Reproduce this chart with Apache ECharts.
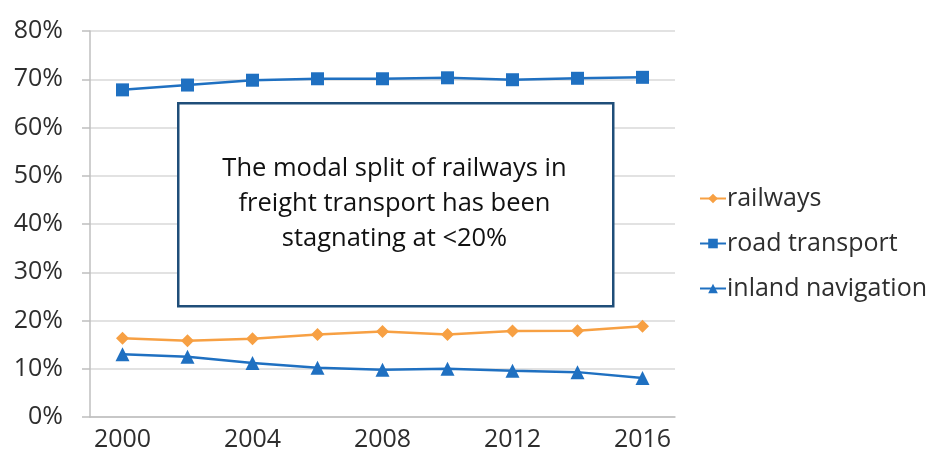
<!DOCTYPE html>
<html>
<head>
<meta charset="utf-8">
<script src="https://cdn.jsdelivr.net/npm/echarts@6/dist/echarts.min.js"></script>
<style>
  html, body { margin: 0; padding: 0; background: #fff; }
  #chart { width: 938px; height: 466px; }
</style>
</head>
<body>
<div id="chart"></div>
<script>
// data (share of freight transport, %)
const years = ["2000", "2002", "2004", "2006", "2008", "2010", "2012", "2014", "2016"];
const railways = [16.3, 15.8, 16.2, 17.1, 17.7, 17.1, 17.8, 17.9, 18.8];
const roadTransport = [67.8, 68.8, 69.8, 70.1, 70.1, 70.3, 69.9, 70.2, 70.4];
const inlandNavigation = [13.0, 12.5, 11.2, 10.2, 9.8, 10.0, 9.6, 9.3, 8.1];
const noteLines = ["The modal split of railways in", "freight transport has been", "stagnating at <20%"];

const font = "'Open Sans', sans-serif";
const textColor = "#2e2e2e";

const myChart = echarts.init(document.getElementById("chart"));
const option = {
  animation: false,
  textStyle: { fontFamily: font },
  grid: { left: 90, right: 263, top: 31, bottom: 49 },
  legend: {
    orient: "vertical",
    left: 694,
    top: 181,
    itemGap: 20,
    itemWidth: 26,
    itemHeight: 12,
    textStyle: { fontSize: 25, color: textColor, fontFamily: font, padding: [0, 0, 0, -4] },
    data: ["railways", "road transport", "inland navigation"],
  },
  xAxis: {
    type: "category",
    data: years,
    boundaryGap: true,
    axisLine: { lineStyle: { color: "#bfbfbf", width: 1.5 } },
    axisTick: { interval: 0, length: 9, lineStyle: { color: "#bfbfbf", width: 1.5 } },
    axisLabel: { interval: 1, fontSize: 25, color: textColor, margin: 10 },
  },
  yAxis: {
    type: "value",
    min: 0,
    max: 80,
    interval: 10,
    axisLine: { show: true, lineStyle: { color: "#bfbfbf", width: 1.5 } },
    axisTick: { show: true, length: 8, lineStyle: { color: "#bfbfbf", width: 1.5 } },
    axisLabel: { formatter: "{value}%", fontSize: 25, color: textColor, margin: 27 },
    splitLine: { lineStyle: { color: "#d9d9d9", width: 1.5 } },
  },
  series: [
    {
      name: "railways",
      type: "line",
      data: railways,
      symbol: "diamond",
      symbolSize: 13,
      color: "#f7a043",
      lineStyle: { width: 2.5 },
    },
    {
      name: "road transport",
      type: "line",
      data: roadTransport,
      symbol: "rect",
      symbolSize: 13,
      color: "#1f70c1",
      lineStyle: { width: 2.5 },
    },
    {
      name: "inland navigation",
      type: "line",
      data: inlandNavigation,
      symbol: "triangle",
      symbolSize: 14,
      color: "#1f70c1",
      lineStyle: { width: 2.5 },
    },
  ],
  // annotation box in the middle of the plot
  graphic: [
    {
      type: "rect",
      left: 177,
      top: 102,
      shape: { width: 435, height: 203 },
      style: { fill: "#fff", stroke: "#1f4e79", lineWidth: 2.5 },
      z: 100,
    },
    {
      type: "text",
      x: 394.5,
      y: 151,
      style: {
        text: noteLines.join("\n"),
        align: "center",
        verticalAlign: "top",
        fontSize: 25.5,
        lineHeight: 35,
        fontFamily: font,
        fill: "#111",
      },
      z: 101,
    },
  ],
};
myChart.setOption(option);
</script>
</body>
</html>
